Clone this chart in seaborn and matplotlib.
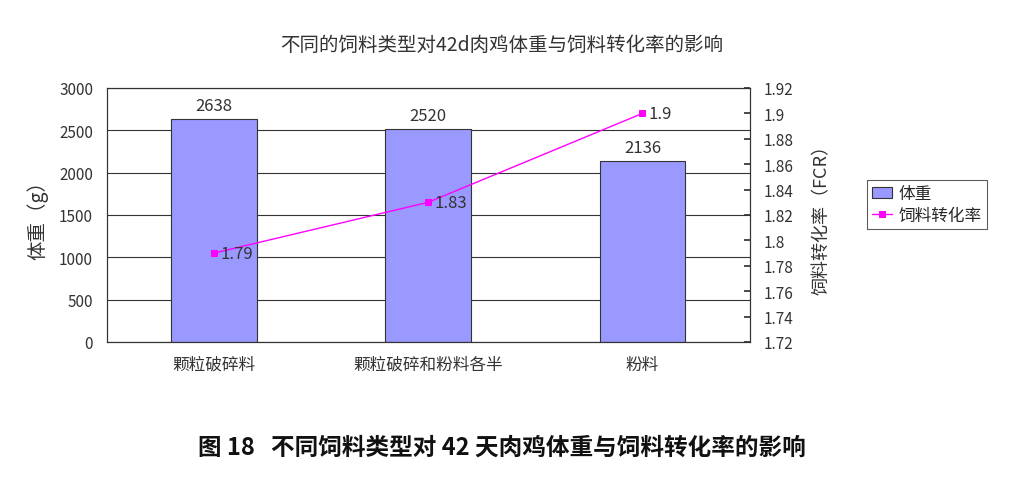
import seaborn as sns
import matplotlib.pyplot as plt
import pandas as pd

categories = ["颗粒破碎料", "颗粒破碎和粉料各半", "粉料"]
body_weight = [2638, 2520, 2136]
fcr = [1.79, 1.83, 1.9]

sns.set_theme(style="white")
plt.rcParams['font.family'] = ['Noto Sans CJK SC', 'DejaVu Sans']

df = pd.DataFrame({"type": categories, "weight": body_weight, "fcr": fcr})

fig = plt.figure(figsize=(10.24, 4.81), dpi=100)
ax = fig.add_axes([0.1045, 0.287, 0.6275, 0.528])

# bars: body weight
sns.barplot(data=df, x="type", y="weight", ax=ax, color="#9999FF", saturation=1,
            width=0.4, edgecolor="#333333", linewidth=0.8, label="体重")
if ax.get_legend() is not None:
    ax.get_legend().remove()
ax.set_ylim(0, 3000)
ax.set_yticks(range(0, 3001, 500))
ax.yaxis.grid(True, color="#333333", linewidth=0.8)
ax.set_axisbelow(True)
ax.set_xlabel("")
ax.set_ylabel("体重（g）", fontsize=14, color="#333333", labelpad=8)
ax.tick_params(axis="y", labelsize=11, colors="#333333", length=0, pad=10)
ax.tick_params(axis="x", labelsize=12, colors="#333333", length=0, pad=10)
for s in ax.spines.values():
    s.set_color("#333333")
    s.set_linewidth(0.8)

for i, v in enumerate(body_weight):
    ax.text(i, v + 60, str(v), ha="center", va="bottom", fontsize=12, color="#333333")

# line: FCR on second axis
ax2 = ax.twinx()
sns.lineplot(x=list(range(len(categories))), y=fcr, ax=ax2, color="#FF00FF",
             marker="s", markersize=4, linewidth=1, markeredgecolor="#FF00FF",
             label="饲料转化率", legend=False)
ax2.set_ylim(1.72, 1.92)
ticks2 = [1.72 + 0.02 * k for k in range(11)]
ax2.set_yticks(ticks2)
ax2.set_yticklabels([f"{t:.2f}".rstrip("0").rstrip(".") for t in ticks2])
ax2.tick_params(axis="y", labelsize=11, colors="#333333", length=4, direction="in", pad=10)
ax2.set_ylabel("饲料转化率（FCR）", fontsize=13, color="#333333", rotation=90, labelpad=14)
ax2.grid(False)
for s in ax2.spines.values():
    s.set_color("#333333")
    s.set_linewidth(0.8)
ax.set_xlim(-0.5, 2.5)

for i, v in enumerate(fcr):
    ax2.text(i + 0.03, v, f"{v:g}", ha="left", va="center", fontsize=12, color="#333333")

h1, l1 = ax.get_legend_handles_labels()
h2, l2 = ax2.get_legend_handles_labels()
leg = ax2.legend(h1 + h2, l1 + l2, loc="center left", bbox_to_anchor=(1.17, 0.54),
                 fontsize=12, frameon=True, fancybox=False, edgecolor="#333333",
                 handlelength=1.2, borderpad=0.3, labelspacing=0.3, handletextpad=0.4)
leg.get_frame().set_linewidth(0.8)

fig.text(0.49, 0.905, "不同的饲料类型对42d肉鸡体重与饲料转化率的影响", ha="center",
         va="center", fontsize=14, color="#333333")
fig.text(0.49, 0.07, "图 18   不同饲料类型对 42 天肉鸡体重与饲料转化率的影响", ha="center",
         va="center", fontsize=17, fontweight="bold", color="#111111")

plt.savefig("out.png", dpi=100)
